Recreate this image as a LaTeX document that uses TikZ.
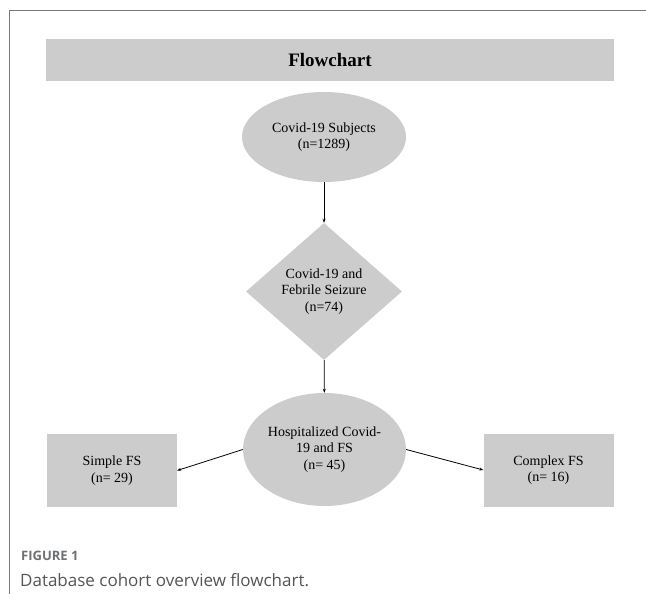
\documentclass[tikz,border=0pt]{standalone}
\usepackage{fontspec}
\setmainfont{Liberation Serif}
\newfontfamily\captionfont{Open Sans}
\usetikzlibrary{shapes.geometric,arrows.meta}
\definecolor{boxgray}{RGB}{204,204,204}
\definecolor{framegray}{RGB}{120,120,120}
\definecolor{capgray}{RGB}{85,85,85}
\definecolor{figgray}{RGB}{110,112,114}

\begin{document}
\begin{tikzpicture}[x=1pt, y=-1pt,
    every node/.style={font=\fontsize{14}{16.5}\selectfont, align=center, inner sep=0pt},
    ovalbox/.style={ellipse, fill=boxgray},
    diabox/.style={diamond, fill=boxgray},
    rectbox/.style={rectangle, fill=boxgray, minimum width=130pt, minimum height=73pt},
    flowarrow/.style={-{Stealth[length=4pt,width=3pt]}, line width=0.8pt}]
    \useasboundingbox (0,0) rectangle (646,594);
    \draw[framegray, line width=1.5pt] (9.3,594) -- (9.3,10.7) -- (646,10.7);

    \node[fill=boxgray, minimum width=568pt, minimum height=42pt,
        font=\fontsize{19}{22}\selectfont\bfseries] (title) at (330,60) {Flowchart};

    \node[ovalbox, minimum width=164pt, minimum height=90pt] (subjects) at (324,137)
        {Covid-19 Subjects\\(n=1289)};
    \node[diabox, minimum width=156pt, minimum height=137pt] (febrile) at (324,291.5)
        {Covid-19 and\\Febrile Seizure\\(n=74)};
    \node[ovalbox, minimum width=163pt, minimum height=113pt] (hosp) at (324.5,449.5)
        {Hospitalized Covid-\\19 and FS\\(n= 45)};
    \node[rectbox] (simple) at (112,470.5) {Simple FS\\(n= 29)};
    \node[rectbox] (complex) at (548.5,470) {Complex FS\\(n= 16)};

    \draw[flowarrow] (subjects) -- (febrile);
    \draw[flowarrow] (febrile) -- (hosp);
    \draw[flowarrow] (hosp.west) -- (simple.east);
    \draw[flowarrow] (hosp.east) -- (complex.west);

    \node[anchor=base west, text=figgray,
        font=\captionfont\bfseries\fontsize{13}{15}\selectfont] (figlabel) at (21,560) {FIGURE 1};
    \node[anchor=base west, text=capgray,
        font=\captionfont\fontsize{17}{20}\selectfont] (caption) at (20,586)
        {Database cohort overview flowchart.};
\end{tikzpicture}
\end{document}
